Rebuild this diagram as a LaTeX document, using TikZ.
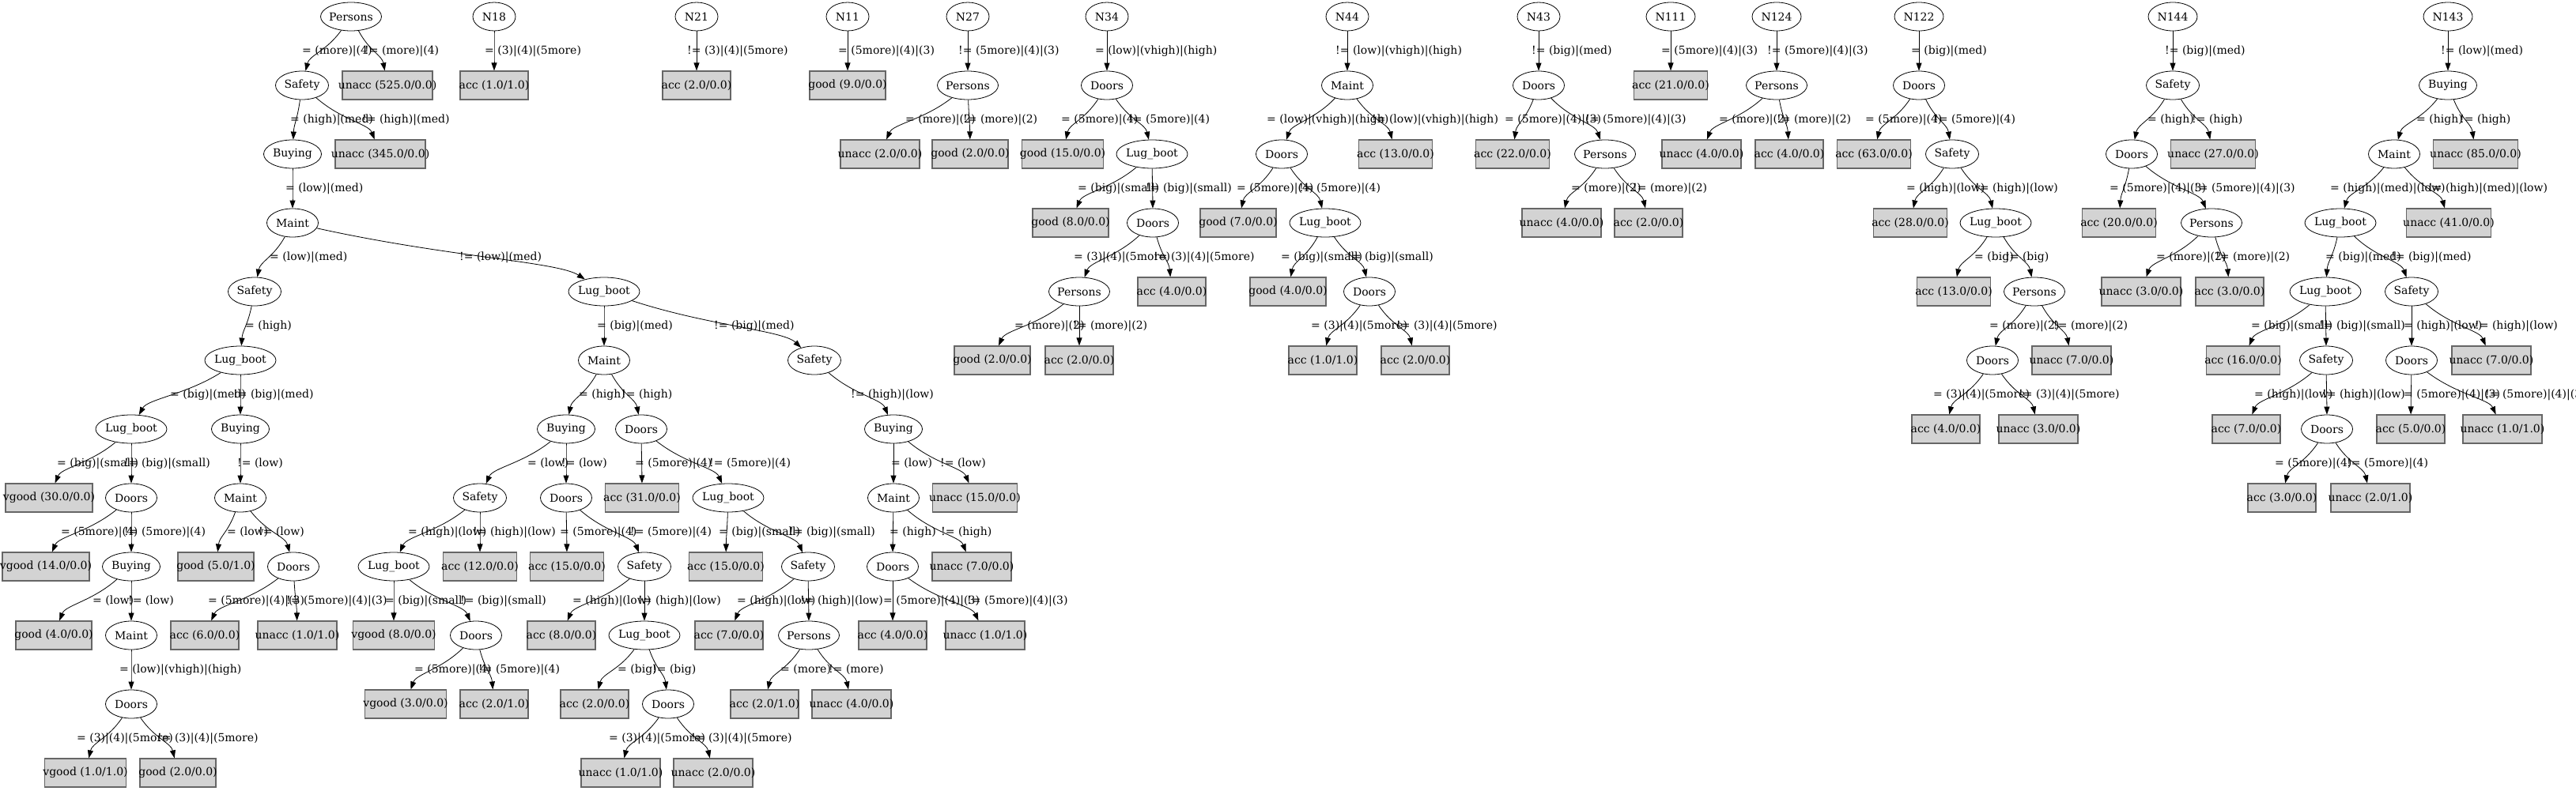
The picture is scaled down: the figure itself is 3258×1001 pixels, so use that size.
\documentclass[tikz,border=0pt]{standalone}
\usepackage{fontspec}
\setmainfont{DejaVu Serif}
\usetikzlibrary{arrows.meta,calc,shapes.geometric}
\definecolor{boxgray}{HTML}{D3D3D3}
\tikzset{
  enode/.style={ellipse,draw=black,line width=0.8pt,minimum height=36pt,inner sep=0pt},
  leaf/.style={rectangle,draw=black!60,fill=boxgray,line width=1.1pt,minimum height=36pt,inner sep=0pt},
  conn/.style={draw=black,line width=0.8pt,-{Triangle[length=10pt,width=7pt]}},
  elab/.style={anchor=west,inner sep=0pt}
}
\newcommand\gvE[5]{\node[enode,minimum width=#4pt] (#1) at (#2,#3) {\makebox[0pt]{#5}};}
\newcommand\gvL[5]{\node[leaf,minimum width=#4pt] (#1) at (#2,#3) {\makebox[0pt]{#5}};}
\newcommand\gvEdge[4]{%
  \draw[conn] (#1) .. controls ($(#1)!0.5!(#2)$) and ($($(#2)!0.15!(#1)$)+(0,-25)$) .. (#2);
  \path (#1) ++(0,43.5) coordinate (gvtmp);
  \coordinate (gvx) at (#3,0);
  \node[elab] at (gvx |- gvtmp) {#4};}
\begin{document}
\begin{tikzpicture}[x=1pt,y=-1pt,font=\fontsize{14}{16}\selectfont]
\fill[white] (0,0) rectangle (3258,1001);
\useasboundingbox (0,0) rectangle (3258,1001);
% ---------- Tree A ----------
\gvE{a0}{444}{21}{77}{Persons}
\gvE{a1}{382}{108}{67}{Safety}
\gvL{a1r}{490}{108}{114}{unacc (525.0/0.0)}
\gvE{a2}{370}{195}{73}{Buying}
\gvL{a2r}{481}{195}{114}{unacc (345.0/0.0)}
\gvE{a3}{370}{282}{65}{Maint}
\gvE{a4}{322}{369}{67}{Safety}
\gvE{a5}{764}{369}{90}{Lug\_boot}
\gvE{a6}{304}{456}{90}{Lug\_boot}
\gvE{a7}{166}{543}{90}{Lug\_boot}
\gvE{a8}{304}{543}{73}{Buying}
\gvL{a7l}{62}{630}{110}{vgood (30.0/0.0)}
\gvE{a9}{166}{630}{65}{Doors}
\gvE{a10}{304}{630}{65}{Maint}
\gvL{a9l}{58}{717}{110}{vgood (14.0/0.0)}
\gvE{a11}{166}{717}{73}{Buying}
\gvL{a10l}{273}{717}{96}{good (5.0/1.0)}
\gvE{a12}{371}{717}{65}{Doors}
\gvL{a11l}{68}{804}{96}{good (4.0/0.0)}
\gvE{a13}{166}{804}{65}{Maint}
\gvL{a12l}{259}{804}{86}{acc (6.0/0.0)}
\gvL{a12r}{376}{804}{100}{unacc (1.0/1.0)}
\gvE{a14}{166}{891}{65}{Doors}
\gvL{a14l}{108}{978}{103}{vgood (1.0/1.0)}
\gvL{a14r}{225}{978}{96}{good (2.0/0.0)}
% ---------- Tree B ----------
\gvE{b1}{764}{456}{65}{Maint}
\gvE{b2}{1030}{456}{67}{Safety}
\gvE{b3}{716}{543}{73}{Buying}
\gvE{b4}{811}{543}{65}{Doors}
\gvE{b5}{607}{630}{67}{Safety}
\gvE{b6}{716}{630}{65}{Doors}
\gvL{b4l}{812}{630}{93}{acc (31.0/0.0)}
\gvE{b7}{921}{630}{90}{Lug\_boot}
\gvE{b8}{498}{717}{90}{Lug\_boot}
\gvL{b5r}{607}{717}{93}{acc (12.0/0.0)}
\gvL{b6l}{717}{717}{93}{acc (15.0/0.0)}
\gvE{b9}{815}{717}{67}{Safety}
\gvL{b7l}{918}{717}{93}{acc (15.0/0.0)}
\gvE{b10}{1022}{717}{67}{Safety}
\gvL{b8l}{498}{804}{103}{vgood (8.0/0.0)}
\gvE{b11}{602}{804}{65}{Doors}
\gvL{b9l}{710}{804}{86}{acc (8.0/0.0)}
\gvE{b12}{815}{804}{90}{Lug\_boot}
\gvL{b10l}{922}{804}{86}{acc (7.0/0.0)}
\gvE{b13}{1023}{804}{77}{Persons}
\gvL{b11l}{513}{891}{103}{vgood (3.0/0.0)}
\gvL{b11r}{625}{891}{86}{acc (2.0/1.0)}
\gvL{b12l}{752}{891}{86}{acc (2.0/0.0)}
\gvE{b14}{845}{891}{65}{Doors}
\gvL{b13l}{967}{891}{86}{acc (2.0/1.0)}
\gvL{b13r}{1077}{891}{100}{unacc (4.0/0.0)}
\gvL{b14l}{785}{978}{100}{unacc (1.0/1.0)}
\gvL{b14r}{902}{978}{100}{unacc (2.0/0.0)}
% ---------- Tree C ----------
\gvE{c1}{1130}{543}{73}{Buying}
\gvE{c2}{1130}{630}{65}{Maint}
\gvL{c1r}{1233}{630}{107}{unacc (15.0/0.0)}
\gvE{c3}{1129}{717}{65}{Doors}
\gvL{c2r}{1229}{717}{100}{unacc (7.0/0.0)}
\gvL{c3l}{1129}{804}{86}{acc (4.0/0.0)}
\gvL{c3r}{1246}{804}{100}{unacc (1.0/1.0)}
% ---------- small trees ----------
\gvE{n18}{625}{21}{54}{N18}
\gvL{n18l}{625}{108}{86}{acc (1.0/1.0)}
\gvE{n21}{881}{21}{54}{N21}
\gvL{n21l}{881}{108}{86}{acc (2.0/0.0)}
\gvE{n11}{1072}{21}{54}{N11}
\gvL{n11l}{1072}{108}{96}{good (9.0/0.0)}
\gvE{n27}{1224}{21}{54}{N27}
\gvE{d1}{1224}{108}{77}{Persons}
\gvL{d1l}{1113}{195}{100}{unacc (2.0/0.0)}
\gvL{d1r}{1227}{195}{96}{good (2.0/0.0)}
\gvE{n34}{1400}{21}{54}{N34}
\gvE{e1}{1400}{108}{65}{Doors}
\gvL{e1l}{1344}{195}{103}{good (15.0/0.0)}
\gvE{e2}{1457}{195}{90}{Lug\_boot}
\gvL{e2l}{1354}{282}{96}{good (8.0/0.0)}
\gvE{e3}{1458}{282}{65}{Doors}
\gvE{e4}{1365}{369}{77}{Persons}
\gvL{e3r}{1482}{369}{86}{acc (4.0/0.0)}
\gvL{e4l}{1255}{456}{96}{good (2.0/0.0)}
\gvL{e4r}{1365}{456}{86}{acc (2.0/0.0)}
\gvE{n44}{1704}{21}{54}{N44}
\gvE{f1}{1704}{108}{65}{Maint}
\gvE{f2}{1621}{195}{65}{Doors}
\gvL{f1r}{1765}{195}{93}{acc (13.0/0.0)}
\gvL{f2l}{1566}{282}{96}{good (7.0/0.0)}
\gvE{f3}{1676}{282}{90}{Lug\_boot}
\gvL{f3l}{1629}{369}{96}{good (4.0/0.0)}
\gvE{f4}{1732}{369}{65}{Doors}
\gvL{f4l}{1673}{456}{86}{acc (1.0/1.0)}
\gvL{f4r}{1790}{456}{86}{acc (2.0/0.0)}
\gvE{n43}{1946}{21}{54}{N43}
\gvE{g1}{1946}{108}{65}{Doors}
\gvL{g1l}{1913}{195}{93}{acc (22.0/0.0)}
\gvE{g2}{2030}{195}{77}{Persons}
\gvL{g2l}{1975}{282}{100}{unacc (4.0/0.0)}
\gvL{g2r}{2085}{282}{86}{acc (2.0/0.0)}
\gvE{n111}{2113}{21}{62}{N111}
\gvL{n111l}{2113}{108}{93}{acc (21.0/0.0)}
\gvE{n124}{2247}{21}{62}{N124}
\gvE{h1}{2247}{108}{77}{Persons}
\gvL{h1l}{2152}{195}{100}{unacc (4.0/0.0)}
\gvL{h1r}{2263}{195}{86}{acc (4.0/0.0)}
\gvE{n122}{2427}{21}{62}{N122}
\gvE{i1}{2427}{108}{65}{Doors}
\gvL{i1l}{2370}{195}{93}{acc (63.0/0.0)}
\gvE{i2}{2469}{195}{67}{Safety}
\gvL{i2l}{2416}{282}{93}{acc (28.0/0.0)}
\gvE{i3}{2524}{282}{90}{Lug\_boot}
\gvL{i3l}{2471}{369}{93}{acc (13.0/0.0)}
\gvE{i4}{2573}{369}{77}{Persons}
\gvE{i5}{2520}{456}{65}{Doors}
\gvL{i4r}{2620}{456}{100}{unacc (7.0/0.0)}
\gvL{i5l}{2461}{543}{86}{acc (4.0/0.0)}
\gvL{i5r}{2578}{543}{100}{unacc (3.0/0.0)}
\gvE{n144}{2748}{21}{62}{N144}
\gvE{j1}{2748}{108}{67}{Safety}
\gvE{j2}{2696}{195}{65}{Doors}
\gvL{j1r}{2799}{195}{107}{unacc (27.0/0.0)}
\gvL{j2l}{2680}{282}{93}{acc (20.0/0.0)}
\gvE{j3}{2797}{282}{77}{Persons}
\gvL{j3l}{2708}{369}{100}{unacc (3.0/0.0)}
\gvL{j3r}{2820}{369}{86}{acc (3.0/0.0)}
\gvE{n143}{3096}{21}{62}{N143}
\gvE{k1}{3096}{108}{73}{Buying}
\gvE{k2}{3028}{195}{65}{Maint}
\gvL{k1r}{3131}{195}{107}{unacc (85.0/0.0)}
\gvE{k3}{2960}{282}{90}{Lug\_boot}
\gvL{k2r}{3097}{282}{107}{unacc (41.0/0.0)}
\gvE{k4}{2941}{369}{90}{Lug\_boot}
\gvE{k5}{3050}{369}{67}{Safety}
\gvL{k4l}{2837}{456}{93}{acc (16.0/0.0)}
\gvE{k6}{2942}{456}{67}{Safety}
\gvE{k7}{3050}{456}{65}{Doors}
\gvL{k5r}{3151}{456}{100}{unacc (7.0/0.0)}
\gvL{k6l}{2841}{543}{86}{acc (7.0/0.0)}
\gvE{k8}{2943}{543}{65}{Doors}
\gvL{k7l}{3049}{543}{86}{acc (5.0/0.0)}
\gvL{k7r}{3165}{543}{100}{unacc (1.0/1.0)}
\gvL{k8l}{2886}{630}{86}{acc (3.0/0.0)}
\gvL{k8r}{2998}{630}{100}{unacc (2.0/1.0)}
% ---------- edges ----------
\gvEdge{a0}{a1}{382}{= (more)|(4)}
\gvEdge{a0}{a1r}{461}{!= (more)|(4)}
\gvEdge{a1}{a2}{367}{= (high)|(med)}
\gvEdge{a1}{a2r}{458}{!= (high)|(med)}
\gvEdge{a2}{a3}{361}{= (low)|(med)}
\gvEdge{a3}{a4}{341}{= (low)|(med)}
\gvEdge{a3}{a5}{581}{!= (low)|(med)}
\gvEdge{a4}{a6}{310}{= (high)}
\gvEdge{a6}{a7}{215}{= (big)|(med)}
\gvEdge{a6}{a8}{295}{!= (big)|(med)}
\gvEdge{a7}{a7l}{72}{= (big)|(small)}
\gvEdge{a7}{a9}{157}{!= (big)|(small)}
\gvEdge{a8}{a10}{300}{!= (low)}
\gvEdge{a9}{a9l}{77}{= (5more)|(4)}
\gvEdge{a9}{a11}{157}{!= (5more)|(4)}
\gvEdge{a10}{a10l}{287}{= (low)}
\gvEdge{a10}{a12}{327}{!= (low)}
\gvEdge{a11}{a11l}{117}{= (low)}
\gvEdge{a11}{a13}{162}{!= (low)}
\gvEdge{a12}{a12l}{263}{= (5more)|(4)|(3)}
\gvEdge{a12}{a12r}{362}{!= (5more)|(4)|(3)}
\gvEdge{a13}{a14}{151}{= (low)|(vhigh)|(high)}
\gvEdge{a14}{a14l}{97}{= (3)|(4)|(5more)}
\gvEdge{a14}{a14r}{199}{!= (3)|(4)|(5more)}
\gvEdge{a5}{b1}{755}{= (big)|(med)}
\gvEdge{a5}{b2}{903}{!= (big)|(med)}
\gvEdge{b1}{b3}{732}{= (high)}
\gvEdge{b1}{b4}{786}{!= (high)}
\gvEdge{b3}{b5}{667}{= (low)}
\gvEdge{b3}{b6}{710}{!= (low)}
\gvEdge{b4}{b4l}{803}{= (5more)|(4)}
\gvEdge{b4}{b7}{897}{!= (5more)|(4)}
\gvEdge{b5}{b8}{516}{= (high)|(low)}
\gvEdge{b5}{b5r}{598}{!= (high)|(low)}
\gvEdge{b6}{b6l}{708}{= (5more)|(4)}
\gvEdge{b6}{b9}{797}{!= (5more)|(4)}
\gvEdge{b7}{b7l}{909}{= (big)|(small)}
\gvEdge{b7}{b10}{998}{!= (big)|(small)}
\gvEdge{b8}{b8l}{487}{= (big)|(small)}
\gvEdge{b8}{b11}{582}{!= (big)|(small)}
\gvEdge{b9}{b9l}{724}{= (high)|(low)}
\gvEdge{b9}{b12}{807}{!= (high)|(low)}
\gvEdge{b10}{b10l}{932}{= (high)|(low)}
\gvEdge{b10}{b13}{1012}{!= (high)|(low)}
\gvEdge{b11}{b11l}{524}{= (5more)|(4)}
\gvEdge{b11}{b11r}{605}{!= (5more)|(4)}
\gvEdge{b12}{b12l}{781}{= (big)}
\gvEdge{b12}{b14}{825}{!= (big)}
\gvEdge{b13}{b13l}{987}{= (more)}
\gvEdge{b13}{b13r}{1048}{!= (more)}
\gvEdge{b14}{b14l}{770}{= (3)|(4)|(5more)}
\gvEdge{b14}{b14r}{874}{!= (3)|(4)|(5more)}
\gvEdge{b2}{c1}{1076}{!= (high)|(low)}
\gvEdge{c1}{c2}{1127}{= (low)}
\gvEdge{c1}{c1r}{1189}{!= (low)}
\gvEdge{c2}{c3}{1125}{= (high)}
\gvEdge{c2}{c2r}{1190}{!= (high)}
\gvEdge{c3}{c3l}{1117}{= (5more)|(4)|(3)}
\gvEdge{c3}{c3r}{1223}{!= (5more)|(4)|(3)}
\gvEdge{n18}{n18l}{613}{= (3)|(4)|(5more)}
\gvEdge{n21}{n21l}{869}{!= (3)|(4)|(5more)}
\gvEdge{n11}{n11l}{1060}{= (5more)|(4)|(3)}
\gvEdge{n27}{d1}{1212}{!= (5more)|(4)|(3)}
\gvEdge{d1}{d1l}{1145}{= (more)|(2)}
\gvEdge{d1}{d1r}{1218}{!= (more)|(2)}
\gvEdge{n34}{e1}{1385}{= (low)|(vhigh)|(high)}
\gvEdge{e1}{e1l}{1342}{= (5more)|(4)}
\gvEdge{e1}{e2}{1427}{!= (5more)|(4)}
\gvEdge{e2}{e2l}{1363}{= (big)|(small)}
\gvEdge{e2}{e3}{1449}{!= (big)|(small)}
\gvEdge{e3}{e4}{1358}{= (3)|(4)|(5more)}
\gvEdge{e3}{e3r}{1459}{!= (3)|(4)|(5more)}
\gvEdge{e4}{e4l}{1283}{= (more)|(2)}
\gvEdge{e4}{e4r}{1357}{!= (more)|(2)}
\gvEdge{n44}{f1}{1689}{!= (low)|(vhigh)|(high)}
\gvEdge{f1}{f2}{1602}{= (low)|(vhigh)|(high)}
\gvEdge{f1}{f1r}{1735}{!= (low)|(vhigh)|(high)}
\gvEdge{f2}{f2l}{1564}{= (5more)|(4)}
\gvEdge{f2}{f3}{1643}{!= (5more)|(4)}
\gvEdge{f3}{f3l}{1620}{= (big)|(small)}
\gvEdge{f3}{f4}{1704}{!= (big)|(small)}
\gvEdge{f4}{f4l}{1658}{= (3)|(4)|(5more)}
\gvEdge{f4}{f4r}{1766}{!= (3)|(4)|(5more)}
\gvEdge{n43}{g1}{1937}{!= (big)|(med)}
\gvEdge{g1}{g1l}{1903}{= (5more)|(4)|(3)}
\gvEdge{g1}{g2}{2005}{!= (5more)|(4)|(3)}
\gvEdge{g2}{g2l}{1987}{= (more)|(2)}
\gvEdge{g2}{g2r}{2065}{!= (more)|(2)}
\gvEdge{n111}{n111l}{2101}{= (5more)|(4)|(3)}
\gvEdge{n124}{h1}{2235}{!= (5more)|(4)|(3)}
\gvEdge{h1}{h1l}{2174}{= (more)|(2)}
\gvEdge{h1}{h1r}{2247}{!= (more)|(2)}
\gvEdge{n122}{i1}{2417}{= (big)|(med)}
\gvEdge{i1}{i1l}{2359}{= (5more)|(4)}
\gvEdge{i1}{i2}{2446}{!= (5more)|(4)}
\gvEdge{i2}{i2l}{2411}{= (high)|(low)}
\gvEdge{i2}{i3}{2498}{!= (high)|(low)}
\gvEdge{i3}{i3l}{2497}{= (big)}
\gvEdge{i3}{i4}{2536}{!= (big)}
\gvEdge{i4}{i5}{2516}{= (more)|(2)}
\gvEdge{i4}{i4r}{2597}{!= (more)|(2)}
\gvEdge{i5}{i5l}{2445}{= (3)|(4)|(5more)}
\gvEdge{i5}{i5r}{2553}{!= (3)|(4)|(5more)}
\gvEdge{n144}{j1}{2738}{!= (big)|(med)}
\gvEdge{j1}{j2}{2716}{= (high)}
\gvEdge{j1}{j1r}{2772}{!= (high)}
\gvEdge{j2}{j2l}{2668}{= (5more)|(4)|(3)}
\gvEdge{j2}{j3}{2775}{!= (5more)|(4)|(3)}
\gvEdge{j3}{j3l}{2727}{= (more)|(2)}
\gvEdge{j3}{j3r}{2802}{!= (more)|(2)}
\gvEdge{n143}{k1}{3087}{!= (low)|(med)}
\gvEdge{k1}{k2}{3056}{= (high)}
\gvEdge{k1}{k1r}{3111}{!= (high)}
\gvEdge{k2}{k3}{2947}{= (high)|(med)|(low)}
\gvEdge{k2}{k2r}{3071}{!= (high)|(med)|(low)}
\gvEdge{k3}{k4}{2941}{= (big)|(med)}
\gvEdge{k3}{k5}{3024}{!= (big)|(med)}
\gvEdge{k4}{k4l}{2847}{= (big)|(small)}
\gvEdge{k4}{k6}{2933}{!= (big)|(small)}
\gvEdge{k5}{k7}{3040}{= (high)|(low)}
\gvEdge{k5}{k5r}{3130}{!= (high)|(low)}
\gvEdge{k6}{k6l}{2851}{= (high)|(low)}
\gvEdge{k6}{k8}{2937}{!= (high)|(low)}
\gvEdge{k7}{k7l}{3040}{= (5more)|(4)|(3)}
\gvEdge{k7}{k7r}{3143}{!= (5more)|(4)|(3)}
\gvEdge{k8}{k8l}{2877}{= (5more)|(4)}
\gvEdge{k8}{k8r}{2968}{!= (5more)|(4)}
\end{tikzpicture}
\end{document}
